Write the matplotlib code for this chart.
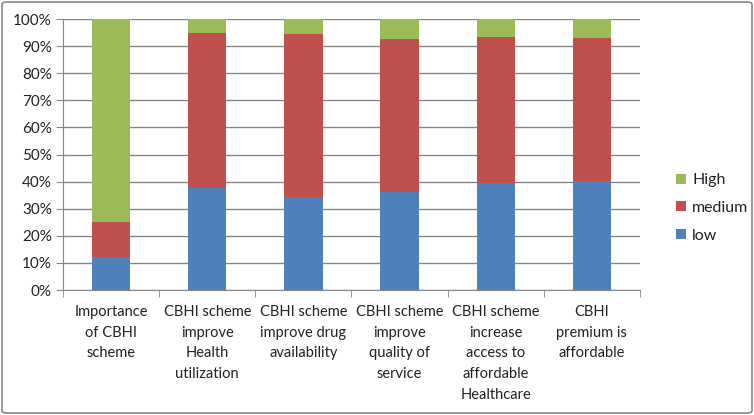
import matplotlib.pyplot as plt
import numpy as np
from matplotlib.patches import FancyBboxPatch
from matplotlib.ticker import PercentFormatter

# ---------------------------------------------------------------------------
# Data (percent of respondents)
# ---------------------------------------------------------------------------
categories = [
    "Importance\nof CBHI\nscheme",
    "CBHI scheme\nimprove\nHealth\nutilization",
    "CBHI scheme\nimprove drug\navailability",
    "CBHI scheme\nimprove\nquality of\nservice",
    "CBHI scheme\nincrease\naccess to\naffordable\nHealthcare",
    "CBHI\npremium is\naffordable",
]
low = [12.2, 37.8, 34.2, 36.3, 39.4, 40.2]
medium = [13.0, 56.9, 60.1, 56.2, 54.0, 52.9]
high = [74.8, 5.3, 5.7, 7.5, 6.6, 6.9]

colors = {"low": "#4F81BD", "medium": "#C0504D", "High": "#9BBB59"}

plt.rcParams["font.family"] = ["Lato", "DejaVu Sans"]

W, H = 754, 415
fig = plt.figure(figsize=(W / 100, H / 100), dpi=100)
ax = fig.add_axes([63 / W, (H - 290) / H, (640 - 63) / W, (290 - 19) / H])

x = np.arange(len(categories))
bottom = np.zeros(len(categories))
bars = {}
for name, vals in [("low", low), ("medium", medium), ("High", high)]:
    bars[name] = ax.bar(x, vals, width=0.4, bottom=bottom, color=colors[name], zorder=3)
    bottom += np.array(vals)

ax.set_xlim(-0.5, len(categories) - 0.5)
ax.set_ylim(0, 100)
ax.set_yticks(np.arange(0, 101, 10))
ax.yaxis.set_major_formatter(PercentFormatter(decimals=0))
ax.grid(axis="y", color="#868686", linewidth=1, zorder=0)

# category labels centered, tick marks at boundaries
ax.set_xticks(x)
ax.set_xticklabels(categories, fontsize=10.5, linespacing=1.6, va="top", color="#222222")
ax.tick_params(axis="x", length=0, pad=11)
ax.set_xticks(np.arange(-0.5, len(categories)), minor=True)
ax.tick_params(axis="x", which="minor", length=5, color="#868686")
ax.tick_params(axis="y", length=5, color="#868686", labelsize=11, pad=3,
               labelcolor="#222222")

for side in ["top", "right"]:
    ax.spines[side].set_visible(False)
for side in ["left", "bottom"]:
    ax.spines[side].set_color("#868686")

handles = [bars["High"], bars["medium"], bars["low"]]
leg = ax.legend(
    handles,
    ["High", "medium", "low"],
    loc="center left",
    bbox_to_anchor=(662 / W, 207 / H),
    bbox_transform=fig.transFigure,
    frameon=False,
    fontsize=11.5,
    handlelength=0.6,
    handleheight=0.6,
    handletextpad=0.4,
    labelspacing=0.85,
)
for t in leg.get_texts():
    t.set_color("#222222")

border = FancyBboxPatch(
    (2 / W, 2 / H), (W - 4) / W, (H - 4) / H,
    boxstyle="round,pad=0,rounding_size=0.006",
    transform=fig.transFigure, fill=False, edgecolor="#868686", linewidth=1.2,
)
fig.patches.append(border)

fig.savefig("out.png", dpi=100)
